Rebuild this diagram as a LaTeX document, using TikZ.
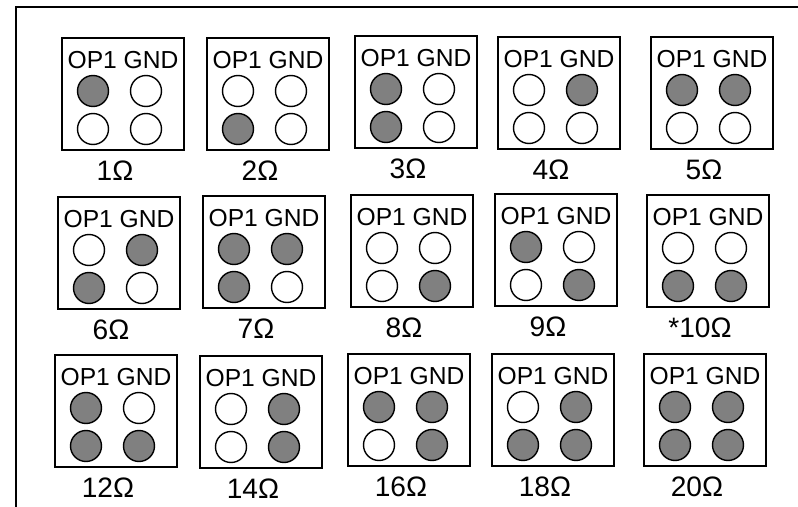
\documentclass[tikz,border=0pt]{standalone}
\usepackage{fontspec}
\setmainfont{Liberation Sans}

\definecolor{pinon}{HTML}{808080}
\colorlet{p1}{pinon}
\colorlet{p0}{white}

\tikzset{
	jbox/.style={draw, line width=1.3pt},
	pin/.style={draw, line width=1pt, fill=#1},
	hdr/.style={font=\fontsize{17.5}{20}\selectfont, inner sep=0pt, anchor=base},
	val/.style={font=\fontsize{20}{23}\selectfont, inner sep=0pt, anchor=base},
}

\begin{document}
\begin{tikzpicture}[x=0.025cm, y=-0.025cm]
	\useasboundingbox (0,0) rectangle (798,507);
	% frame
	\coordinate (fr) at (798,7);
	\coordinate (fc) at (16,7);
	\coordinate (fb) at (16,507);
	\draw [line width=1.4pt] (fr) -- (fc) -- (fb);
	% jumper blocks: x/y/TL/TR/BL/BR/value
	\foreach \x/\y/\a/\b/\c/\d/\lbl [count=\i] in {
		62/38/1/0/0/0/1, 207/38/0/0/1/0/2, 355/36/1/0/1/0/3, 498/37/0/1/0/0/4, 651/37/1/1/0/0/5,
		58/197/0/1/1/0/6, 203/196/1/1/1/0/7, 351/195/0/0/0/1/8, 495/194/1/0/0/1/9, 647/195/0/0/1/1/*10,
		55/355/1/0/1/1/12, 200/356/0/1/0/1/14, 348/354/1/1/0/1/16, 492/354/0/1/1/1/18, 644/354/1/1/1/1/20}
	{
		\draw [jbox] (\x,\y) rectangle ++(122,112);
		\node [hdr] (hdr\i) at ({\x+61},{\y+30}) {OP1 GND};
		\draw [pin=p\a] ({\x+31},{\y+53}) circle (15.5);
		\draw [pin=p\b] ({\x+84},{\y+53}) circle (15.5);
		\draw [pin=p\c] ({\x+31},{\y+91}) circle (15.5);
		\draw [pin=p\d] ({\x+84},{\y+91}) circle (15.5);
		\node [val] (val\i) at ({\x+53},{\y+142}) {\lbl Ω};
	}
\end{tikzpicture}
\end{document}
